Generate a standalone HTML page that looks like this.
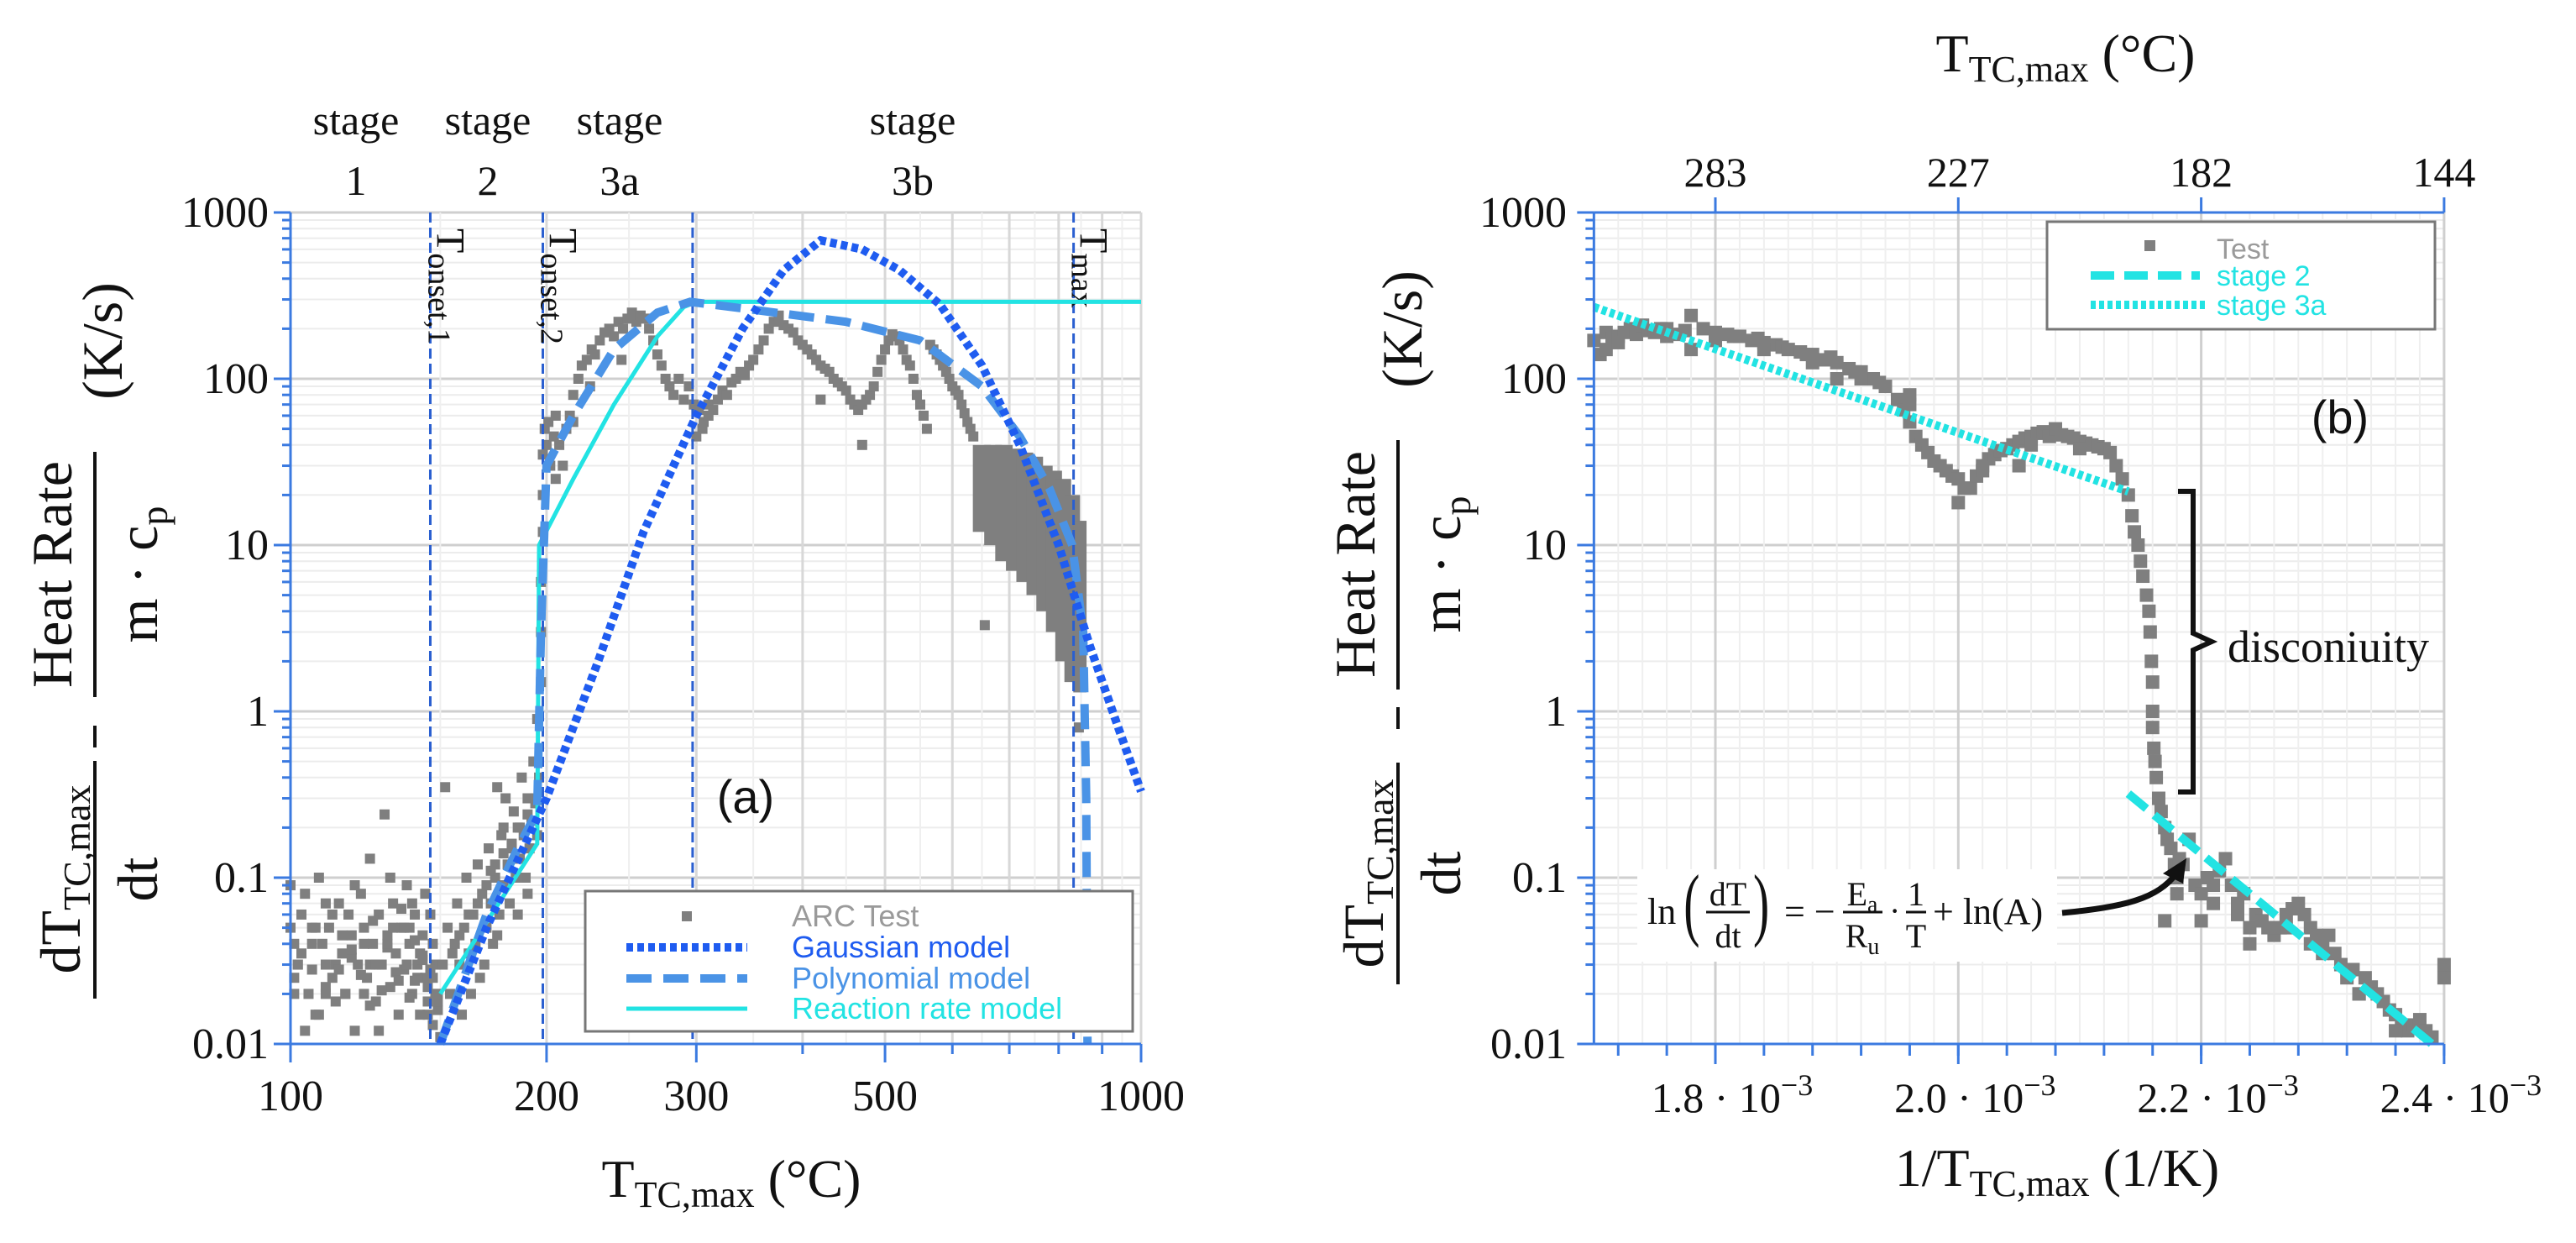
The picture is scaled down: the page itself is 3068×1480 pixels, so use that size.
<!DOCTYPE html>
<html><head><meta charset="utf-8"><title>Heat rate charts</title>
<style>
html,body{margin:0;padding:0;background:#fff;}
svg{display:block;}
.serif{font-family:"Liberation Serif",serif;}
.sans{font-family:"Liberation Sans",sans-serif;}
</style></head>
<body>
<svg id="fig" width="3068" height="1480" viewBox="0 0 3068 1480" xmlns="http://www.w3.org/2000/svg">
  <rect x="0" y="0" width="3068" height="1480" fill="#fff"/>
  <g id="gridL"></g>
  <g id="gridR"></g>
  <g id="dataL"></g>
  <g id="dataR"></g>
  <g id="axesL"></g>
  <g id="axesR"></g>

  <g class="serif" font-size="50" text-anchor="middle" fill="#111">
    <text x="424" y="160">stage</text>
    <text x="424" y="232">1</text>
    <text x="581" y="160">stage</text>
    <text x="581" y="232">2</text>
    <text x="738" y="160">stage</text>
    <text x="738" y="232">3a</text>
    <text x="1087" y="160">stage</text>
    <text x="1087" y="232">3b</text>
  </g>

  <g class="serif" fill="#111" transform="translate(113,0) rotate(-90)">
    <text x="-1047" y="-18" font-size="68" text-anchor="middle">dT<tspan font-size="46" dy="12">TC,max</tspan></text>
    <line x1="-1189" y1="0" x2="-906" y2="0" stroke="#111" stroke-width="4"/>
    <text x="-1047" y="74" font-size="68" text-anchor="middle">dt</text>
    <line x1="-890" y1="0" x2="-864" y2="0" stroke="#111" stroke-width="4"/>
    <text x="-684" y="-28" font-size="68" text-anchor="middle">Heat Rate</text>
    <line x1="-830" y1="0" x2="-538" y2="0" stroke="#111" stroke-width="4"/>
    <text x="-684" y="74" font-size="68" text-anchor="middle">m · c<tspan font-size="46" dy="12">p</tspan></text>
    <text x="-406" y="32" font-size="68" text-anchor="middle">(K/s)</text>
  </g>
  <text class="serif" x="871" y="1425" font-size="64" text-anchor="middle" fill="#111">T<tspan font-size="44" dy="12">TC,max</tspan><tspan dy="-12"> (°C)</tspan></text>
  <text class="sans" x="888" y="968" font-size="56" text-anchor="middle" fill="#111">(a)</text>

  <g>
    <rect x="697" y="1061" width="652" height="167" fill="#fff" stroke="#777" stroke-width="3"/>
    <rect x="812" y="1085" width="12" height="12" fill="#7f7f7f"/>
    <text class="sans" x="943" y="1103" font-size="36" fill="#9a9a9a">ARC Test</text>
    <line x1="746" y1="1128" x2="890" y2="1128" stroke="#1f5cf0" stroke-width="10" stroke-dasharray="8 5"/>
    <text class="sans" x="943" y="1140" font-size="36" fill="#1f5cf0">Gaussian model</text>
    <line x1="746" y1="1165" x2="890" y2="1165" stroke="#4a93e6" stroke-width="10" stroke-dasharray="30 14"/>
    <text class="sans" x="943" y="1177" font-size="36" fill="#4a93e6">Polynomial model</text>
    <line x1="746" y1="1201" x2="890" y2="1201" stroke="#22e3e3" stroke-width="5"/>
    <text class="sans" x="943" y="1213" font-size="36" fill="#22e3e3">Reaction rate model</text>
  </g>

  <text class="serif" x="2460" y="85" font-size="64" text-anchor="middle" fill="#111">T<tspan font-size="44" dy="12">TC,max</tspan><tspan dy="-12"> (°C)</tspan></text>
  <text class="serif" x="2450" y="1412" font-size="64" text-anchor="middle" fill="#111">1/T<tspan font-size="44" dy="12">TC,max</tspan><tspan dy="-12"> (1/K)</tspan></text>
  <g class="serif" fill="#111" transform="translate(1665,0) rotate(-90)">
    <text x="-1040" y="-18" font-size="68" text-anchor="middle">dT<tspan font-size="46" dy="12">TC,max</tspan></text>
    <line x1="-1172" y1="0" x2="-908" y2="0" stroke="#111" stroke-width="4"/>
    <text x="-1040" y="74" font-size="68" text-anchor="middle">dt</text>
    <line x1="-868" y1="0" x2="-842" y2="0" stroke="#111" stroke-width="4"/>
    <text x="-672" y="-28" font-size="68" text-anchor="middle">Heat Rate</text>
    <line x1="-821" y1="0" x2="-524" y2="0" stroke="#111" stroke-width="4"/>
    <text x="-672" y="74" font-size="68" text-anchor="middle">m · c<tspan font-size="46" dy="12">p</tspan></text>
    <text x="-392" y="28" font-size="68" text-anchor="middle">(K/s)</text>
  </g>
  <text class="sans" x="2787" y="516" font-size="56" text-anchor="middle" fill="#111">(b)</text>

  <g>
    <rect x="2438" y="264" width="462" height="128" fill="#fff" stroke="#777" stroke-width="3"/>
    <rect x="2554" y="286" width="13" height="13" fill="#7f7f7f"/>
    <text class="sans" x="2640" y="308" font-size="34" fill="#9a9a9a">Test</text>
    <line x1="2490" y1="328" x2="2620" y2="328" stroke="#22e3e3" stroke-width="10" stroke-dasharray="28 12"/>
    <text class="sans" x="2640" y="340" font-size="34" fill="#22e3e3">stage 2</text>
    <line x1="2490" y1="363" x2="2630" y2="363" stroke="#22e3e3" stroke-width="10" stroke-dasharray="6 4"/>
    <text class="sans" x="2640" y="375" font-size="34" fill="#22e3e3">stage 3a</text>
  </g>

  <path d="M2594,585 L2612,585 L2612,754 L2634,764 L2612,774 L2612,943 L2594,943" fill="none" stroke="#111" stroke-width="6"/>
  <text class="serif" x="2653" y="788" font-size="54" fill="#111">disconiuity</text>

  <g class="serif" fill="#111">
    <rect x="1950" y="1035" width="500" height="110" fill="#fff"/>
    <text x="1962" y="1100" font-size="44">ln</text>
    <text x="2005" y="1108" font-size="96" transform="scale(0.6,1) translate(1337,0)">(</text>
    <text x="2058" y="1078" font-size="40" text-anchor="middle">dT</text>
    <line x1="2032" y1="1086" x2="2084" y2="1086" stroke="#111" stroke-width="3"/>
    <text x="2058" y="1128" font-size="40" text-anchor="middle">dt</text>
    <text x="2088" y="1108" font-size="96" transform="scale(0.6,1) translate(1392,0)">)</text>
    <text x="2125" y="1100" font-size="44">= −</text>
    <text x="2218" y="1078" font-size="40" text-anchor="middle">E<tspan font-size="28" dy="8">a</tspan></text>
    <line x1="2195" y1="1086" x2="2242" y2="1086" stroke="#111" stroke-width="3"/>
    <text x="2218" y="1128" font-size="40" text-anchor="middle">R<tspan font-size="28" dy="8">u</tspan></text>
    <text x="2250" y="1098" font-size="40">·</text>
    <text x="2282" y="1078" font-size="40" text-anchor="middle">1</text>
    <line x1="2270" y1="1086" x2="2294" y2="1086" stroke="#111" stroke-width="3"/>
    <text x="2282" y="1128" font-size="40" text-anchor="middle">T</text>
    <text x="2302" y="1100" font-size="44">+ ln(A)</text>
  </g>
  <path d="M2456,1087 C2530,1080 2570,1070 2592,1040" fill="none" stroke="#111" stroke-width="7"/>
  <path d="M2604,1022 L2576,1040 L2600,1052 Z" fill="#111"/>
</svg>

<script>
// ---------- LEFT PLOT DATA ----------
const leftXTicks = [100, 200, 300, 500, 1000];
const leftXTickLabels = ["100", "200", "300", "500", "1000"];
const yTicks = [1000, 100, 10, 1, 0.1, 0.01];
const yTickLabels = ["1000", "100", "10", "1", "0.1", "0.01"];
const leftScatterT = [100,102,103,105,106,108,108,110,111,112,114,115,116,118,119,120,121,122,123,124,125,126,127,128,129,130,131,132,133,134,135,136,137,138,139,140,141,142,143,144,145,146,147,148,149,150,101,104,107,113,117,127,131,139,144,101,110,124,136,147,152,
100,101,103,104,106,107,109,110,112,113,115,116,118,119,121,122,124,125,127,128,130,132,133,135,137,138,140,141,143,145,146,148,149,142,138,134,130,126,122,118,114,110,106,102,145,147,149,143,140,
151,153,154,156,157,158,160,161,162,164,165,166,167,168,170,171,172,173,174,175,176,177,178,179,180,181,182,183,184,185,186,187,188,189,190,191,192,193,194,195,195,196,163,169,175,159,185,190,178,172,
155,158,162,166,170,174,178,182,186,190,194,
197,197,197,198,198,198,199,200,201,202,204,205,207,209,211,213,215,218,220,223,226,228,231,234,237,240,243,246,249,252,255,258,261,264,267,270,273,276,279,282,286,290,294,298,302,306,310,314,318,322,326,330,334,338,342,346,350,355,360,365,370,375,380,385,390,395,400,405,410,415,420,425,430,435,440,445,450,455,460,465,470,475,480,485,490,495,500,505,510,515,520,525,530,535,540,545,550,555,560,470,420,245,225,215,205,305,655,845,300,310,
565,570,575,580,585,590,595,600,605,610,615,620,625,630,635];
const leftScatterY = [0.09,0.03,0.06,0.02,0.04,0.1,0.015,0.03,0.05,0.025,0.07,0.035,0.02,0.045,0.012,0.03,0.08,0.05,0.025,0.13,0.04,0.018,0.06,0.03,0.24,0.045,0.022,0.07,0.035,0.015,0.05,0.028,0.09,0.04,0.02,0.06,0.03,0.015,0.045,0.025,0.018,0.06,0.013,0.03,0.02,0.011,0.04,0.012,0.05,0.018,0.06,0.012,0.1,0.07,0.08,0.02,0.07,0.03,0.05,0.04,0.35,
0.05,0.025,0.035,0.08,0.028,0.015,0.04,0.022,0.06,0.03,0.045,0.02,0.033,0.09,0.026,0.04,0.017,0.055,0.03,0.021,0.038,0.05,0.027,0.065,0.03,0.019,0.042,0.025,0.034,0.022,0.028,0.02,0.016,0.035,0.05,0.024,0.04,0.03,0.02,0.037,0.028,0.02,0.05,0.03,0.015,0.025,0.018,0.032,0.024,
0.03,0.05,0.02,0.04,0.07,0.03,0.05,0.1,0.035,0.06,0.04,0.12,0.025,0.08,0.05,0.15,0.07,0.04,0.1,0.35,0.06,0.18,0.09,0.3,0.12,0.07,0.15,0.25,0.1,0.2,0.13,0.4,0.18,0.1,0.3,0.15,0.22,0.5,0.28,0.9,0.18,0.4,0.02,0.03,0.045,0.015,0.06,0.08,0.2,0.11,
0.035,0.045,0.06,0.07,0.09,0.12,0.14,0.16,0.2,0.24,0.3,
1.5,3,6,12,20,35,50,40,55,30,45,25,40,30,50,60,80,100,120,130,150,140,170,190,200,180,220,200,230,250,220,240,230,200,170,140,120,100,90,80,100,75,90,70,65,55,70,65,75,85,80,95,100,110,105,120,130,150,170,200,220,240,210,200,190,170,160,150,140,130,120,115,110,100,95,90,85,75,70,65,70,75,80,90,110,130,150,170,185,180,170,150,130,120,100,80,70,60,50,40,75,130,90,55,60,50,3.3,0.8,45,60,
160,150,140,130,120,110,100,90,85,80,70,62,55,50,45];
// dense region as value-range columns: temperature, low, high
const leftBandT = [640,660,680,700,720,740,760,780,800,820,840,855];
const leftBandLow = [12,10,8,7,6,5,4,3,2,1.5,1.3,2];
const leftBandHigh = [40,40,40,38,36,34,30,28,25,20,14,8];
const gaussT = [150,170,200,230,260,300,340,380,420,470,520,580,650,720,800,870,940,1000];
const gaussY = [0.01,0.05,0.3,2,12,60,200,450,680,600,450,280,120,40,10,2.5,0.8,0.33];
const polyT = [150,170,185,195,197,200,215,240,270,295,350,450,550,650,720,780,830,855,862,865];
const polyY = [0.01,0.06,0.15,0.25,3,30,60,150,250,290,260,220,170,90,45,22,10,3,0.3,0.01];
const reactT = [150,195,196,215,240,270,290,300,1000];
const reactY = [0.02,0.16,10,25,70,180,270,290,290];
const markerT = [146,198,297,833];
const markerLabels = ["onset,1","onset,2","","max"];

// ---------- RIGHT PLOT DATA ----------
const rightXTicks = [1.8, 2.0, 2.2, 2.4];
const rightXTickLabels = ["1.8", "2.0", "2.2", "2.4"];
const topTickLabels = ["283", "227", "182", "144"];
const rightScatterX = [1.70,1.705,1.71,1.715,1.72,1.725,1.73,1.735,1.74,1.745,1.75,1.755,1.76,1.77,1.775,1.78,1.79,1.80,1.81,1.815,1.82,1.83,1.835,1.84,1.85,1.855,1.86,1.87,1.875,1.88,1.89,1.895,1.90,1.91,1.915,1.92,1.93,1.935,1.94,1.95,1.955,1.96,1.965,1.97,1.975,1.98,1.985,1.99,1.995,2.00,2.00,2.005,2.01,2.015,2.02,2.025,2.03,2.035,2.04,2.045,2.05,2.055,2.06,2.065,2.07,2.075,2.08,2.085,2.09,2.095,2.10,2.105,2.11,2.115,2.12,2.125,2.13,2.135,2.14,2.143,2.145,2.148,2.15,2.152,2.155,2.157,2.158,2.159,2.16,2.16,2.16,2.161,2.162,2.163,2.165,2.167,2.17,2.172,2.175,2.178,2.18,2.182,2.185,2.19,2.195,2.20,2.205,2.21,2.215,2.22,2.225,2.23,2.235,2.24,2.245,2.25,2.255,2.26,2.265,2.27,2.275,2.28,2.285,2.29,2.295,2.30,2.305,2.31,2.315,2.32,2.325,2.33,2.335,2.34,2.345,2.35,2.355,2.36,2.365,2.37,2.375,2.38,2.385,2.39,2.40,2.40,2.20,2.17,1.90,1.96,2.05,1.78,1.71,
1.72,1.76,1.80,1.84,1.88,1.92,1.96,2.02,2.06,2.10,2.18,2.21,2.24,2.27,2.30,2.33,2.36,2.23,2.26,2.29];
const rightScatterY = [170,140,190,175,180,190,200,185,210,195,190,200,200,185,195,240,200,190,185,180,180,170,175,165,160,155,150,145,140,140,130,135,125,115,110,110,100,95,90,75,65,55,45,40,36,32,30,28,26,25,18,22,22,26,30,33,35,37,38,40,42,44,45,47,48,45,50,46,45,44,42,41,40,39,38,36,30,25,20,15,12,10,8,6.5,5,4,3,2,1.5,1,0.8,0.6,0.5,0.4,0.3,0.25,0.2,0.17,0.15,0.12,0.1,0.13,0.12,0.17,0.09,0.08,0.1,0.07,0.11,0.13,0.09,0.06,0.08,0.05,0.06,0.055,0.05,0.045,0.05,0.06,0.065,0.07,0.06,0.05,0.045,0.04,0.045,0.035,0.03,0.025,0.028,0.02,0.025,0.022,0.02,0.018,0.016,0.015,0.013,0.012,0.013,0.014,0.012,0.011,0.03,0.025,0.055,0.055,100,80,30,150,150,
165,180,170,150,125,100,70,28,40,38,0.08,0.09,0.04,0.05,0.035,0.02,0.012,0.07,0.05,0.04];
const stage3aX = [1.70, 2.14];
const stage3aY = [270, 21];
const stage2X = [2.14, 2.39];
const stage2Y = [0.32, 0.01];

// ---------- SCALES ----------
const PLOT_TOP = 253, PLOT_BOT = 1243;
function yScale(v){ return PLOT_TOP + (3 - Math.log10(v)) * (PLOT_BOT - PLOT_TOP) / 5; }
function xL(t){ return 346 + (Math.log10(t) - 2) * 1013; }
function xR(u){ return 2043 + (u - 1.8) / 0.2 * 289.3; }
const LX0 = 346, LX1 = 1359, RX0 = xR(1.70), RX1 = xR(2.40);

const NS = "http://www.w3.org/2000/svg";
function mk(parent, tag, attrs){
  const e = document.createElementNS(NS, tag);
  for (const k in attrs) e.setAttribute(k, attrs[k]);
  parent.appendChild(e);
  return e;
}
const gridL = document.getElementById('gridL');
const gridR = document.getElementById('gridR');
const dataL = document.getElementById('dataL');
const dataR = document.getElementById('dataR');
const axesL = document.getElementById('axesL');
const axesR = document.getElementById('axesR');

function hGrid(g, x0, x1){
  for (let d = -2; d < 3; d++){
    for (let m = 1; m < 10; m++){
      const v = m * Math.pow(10, d);
      const el = mk(g, 'line', {x1:x0, x2:x1, y1:yScale(v), y2:yScale(v), stroke: m===1 ? '#cfcfcf' : '#ececec', 'stroke-width': m===1 ? 3 : 2});
      
      
    }
  }
  const top = mk(g, 'line', {x1:x0, x2:x1, y1:yScale(1000), y2:yScale(1000), stroke:'#cfcfcf', 'stroke-width':3});
  
  
}
hGrid(gridL, LX0, LX1);
hGrid(gridR, RX0, RX1);
for (let t = 100; t <= 1000; t += 50){
  const major = (t % 100 === 0);
  const el = mk(gridL, 'line', {x1:xL(t), x2:xL(t), y1:PLOT_TOP, y2:PLOT_BOT, stroke: major ? '#d8d8d8' : '#efefef', 'stroke-width': major ? 3 : 2});
  
  
}
for (let i = 0; i <= 35; i++){
  const u = 1.70 + i * 0.02;
  const major = Math.abs(((u - 1.8) / 0.2) - Math.round((u - 1.8) / 0.2)) < 1e-6;
  const el = mk(gridR, 'line', {x1:xR(u), x2:xR(u), y1:PLOT_TOP, y2:PLOT_BOT, stroke: major ? '#cfcfcf' : '#efefef', 'stroke-width': major ? 3 : 2});
  
  
}

// ---------- LEFT DATA ----------
const M = 12;
for (let i = 0; i < leftBandT.length - 1; i++){
  const x0 = xL(leftBandT[i]), x1 = xL(leftBandT[i+1]);
  const y0 = yScale(leftBandHigh[i]), y1 = yScale(leftBandLow[i]);
  const el = mk(dataL, 'rect', {x:x0 - 4, y:y0, width:x1 - x0 + 8, height:y1 - y0, fill:'#7f7f7f'});
  
  
}
for (let i = 0; i < leftScatterT.length; i++){
  const el = mk(dataL, 'rect', {x:xL(leftScatterT[i]) - M/2, y:yScale(leftScatterY[i]) - M/2, width:M, height:M, fill:'#7f7f7f'});
  
  
}
function poly(g, xs, ys, sx, attrs){
  let d = '';
  for (let i = 0; i < xs.length; i++) d += (i ? 'L' : 'M') + sx(xs[i]).toFixed(1) + ',' + yScale(ys[i]).toFixed(1);
  attrs.d = d; attrs.fill = 'none';
  return mk(g, 'path', attrs);
}
for (let i = 0; i < markerT.length; i++){
  const el = mk(dataL, 'line', {x1:xL(markerT[i]), x2:xL(markerT[i]), y1:PLOT_TOP, y2:PLOT_BOT, stroke:'#2a5fd0', 'stroke-width':3, 'stroke-dasharray':'12 6'});
  
  
  if (markerLabels[i]){
    const tx = xL(markerT[i]) + 8;
    const t = mk(dataL, 'text', {x:0, y:0, transform:'translate(' + tx + ',272) rotate(90)', 'font-size':48, fill:'#111', 'font-family':'"Liberation Serif", serif'});
    
    
    t.textContent = 'T';
    const s = document.createElementNS(NS, 'tspan');
    s.setAttribute('font-size', '38');
    s.setAttribute('dy', '10');
    s.textContent = markerLabels[i];
    t.appendChild(s);
  }
}
const rline = poly(dataL, reactT, reactY, xL, {stroke:'#22e3e3', 'stroke-width':5});


const pline = poly(dataL, polyT, polyY, xL, {stroke:'#4a93e6', 'stroke-width':10, 'stroke-dasharray':'30 14'});


const gline = poly(dataL, gaussT, gaussY, xL, {stroke:'#1f5cf0', 'stroke-width':10, 'stroke-dasharray':'8 5'});



// ---------- RIGHT DATA ----------
for (let i = 0; i < rightScatterX.length; i++){
  const el = mk(dataR, 'rect', {x:xR(rightScatterX[i]) - 8, y:yScale(rightScatterY[i]) - 8, width:16, height:16, fill:'#7f7f7f'});
  
  
}
const s3 = poly(dataR, stage3aX, stage3aY, xR, {stroke:'#22e3e3', 'stroke-width':10, 'stroke-dasharray':'6 4'});


const s2 = poly(dataR, stage2X, stage2Y, xR, {stroke:'#22e3e3', 'stroke-width':10, 'stroke-dasharray':'28 12'});



// ---------- AXES ----------
function yAxis(g, x0, labelX){
  const ax = mk(g, 'line', {x1:x0, x2:x0, y1:PLOT_TOP, y2:PLOT_BOT, stroke:'#3b7ae0', 'stroke-width':3});
  
  
  for (let d = -2; d < 3; d++){
    for (let m = 2; m < 10; m++){
      const y = yScale(m * Math.pow(10, d));
      const tk = mk(g, 'line', {x1:x0 - 10, x2:x0, y1:y, y2:y, stroke:'#3b7ae0', 'stroke-width':3});
      
      
    }
  }
  for (let i = 0; i < yTicks.length; i++){
    const y = yScale(yTicks[i]);
    const tk = mk(g, 'line', {x1:x0 - 20, x2:x0, y1:y, y2:y, stroke:'#3b7ae0', 'stroke-width':3});
    
    
    const t = mk(g, 'text', {x:labelX, y:y + 17, 'text-anchor':'end', 'font-size':52, fill:'#111', 'font-family':'"Liberation Serif", serif'});
    
    
    t.textContent = yTickLabels[i];
  }
}
yAxis(axesL, LX0, 320);
yAxis(axesR, RX0, 1866);

const lxa = mk(axesL, 'line', {x1:LX0, x2:LX1, y1:PLOT_BOT, y2:PLOT_BOT, stroke:'#3b7ae0', 'stroke-width':3});


for (let t = 100; t <= 1000; t += 100){
  const tk = mk(axesL, 'line', {x1:xL(t), x2:xL(t), y1:PLOT_BOT, y2:PLOT_BOT + (leftXTicks.indexOf(t) >= 0 ? 22 : 12), stroke:'#3b7ae0', 'stroke-width':3});
  
  
}
for (let i = 0; i < leftXTicks.length; i++){
  const t = mk(axesL, 'text', {x:xL(leftXTicks[i]), y:1322, 'text-anchor':'middle', 'font-size':52, fill:'#111', 'font-family':'"Liberation Serif", serif'});
  
  
  t.textContent = leftXTickLabels[i];
}

const rxa = mk(axesR, 'line', {x1:RX0, x2:RX1, y1:PLOT_BOT, y2:PLOT_BOT, stroke:'#3b7ae0', 'stroke-width':3});


const rta = mk(axesR, 'line', {x1:RX0, x2:RX1, y1:PLOT_TOP, y2:PLOT_TOP, stroke:'#3b7ae0', 'stroke-width':3});


for (let i = 0; i <= 17; i++){
  const u = 1.72 + i * 0.04;
  const tk = mk(axesR, 'line', {x1:xR(u), x2:xR(u), y1:PLOT_BOT, y2:PLOT_BOT + 14, stroke:'#3b7ae0', 'stroke-width':3});
  
  
}
for (let i = 0; i < rightXTicks.length; i++){
  const x = xR(rightXTicks[i]);
  const tk = mk(axesR, 'line', {x1:x, x2:x, y1:PLOT_BOT, y2:PLOT_BOT + 24, stroke:'#3b7ae0', 'stroke-width':3});
  
  
  const tt = mk(axesR, 'line', {x1:x, x2:x, y1:PLOT_TOP - 18, y2:PLOT_TOP, stroke:'#3b7ae0', 'stroke-width':3});
  
  
  const t = mk(axesR, 'text', {x:x + 20, y:1324, 'text-anchor':'middle', 'font-size':50, fill:'#111', 'font-family':'"Liberation Serif", serif'});
  
  
  t.textContent = rightXTickLabels[i] + ' · 10';
  const sp = document.createElementNS(NS, 'tspan');
  sp.setAttribute('font-size', '36');
  sp.setAttribute('dy', '-20');
  sp.textContent = '−3';
  t.appendChild(sp);
  const tl = mk(axesR, 'text', {x:x, y:222, 'text-anchor':'middle', 'font-size':50, fill:'#111', 'font-family':'"Liberation Serif", serif'});
  
  
  tl.textContent = topTickLabels[i];
}
</script>
</body></html>
